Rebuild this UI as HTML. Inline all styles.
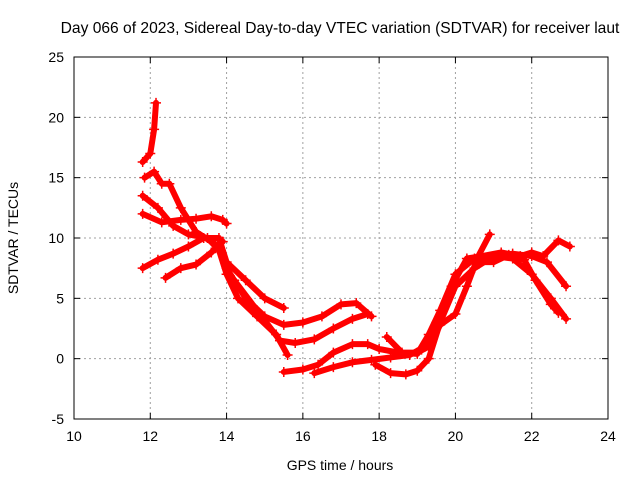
<!DOCTYPE html>
<html><head><meta charset="utf-8"><style>
body{margin:0;background:#fff}
svg{display:block;font-family:"Liberation Sans",sans-serif}
</style></head><body>
<svg id="chart" width="640" height="480">
<rect width="640" height="480" fill="#fff"/>
<text x="340" y="33" font-size="15.6" text-anchor="middle">Day 066 of 2023, Sidereal Day-to-day VTEC variation (SDTVAR) for receiver laut</text>
<g id="grid"></g><g id="axes"></g><g id="series"></g>
<text x="340" y="470" font-size="14" text-anchor="middle">GPS time / hours</text>
<text transform="translate(18,238) rotate(-90)" font-size="14" text-anchor="middle">SDTVAR / TECUs</text>
</svg>
<script>
const xTicks=[10,12,14,16,18,20,22,24];
const yTicks=[-5,0,5,10,15,20,25];
const track1=[[11.8,16.3],[12.0,17],[12.1,19],[12.15,21.2]];
const track2=[[11.85,15],[12.1,15.5],[12.3,14.5],[12.5,14.5],[12.8,12.5],[13.2,10.5],[13.7,9.5],[14,8],[14.5,6.5],[15,5],[15.5,4.2]];
const track3=[[11.8,13.5],[12.2,12.5],[12.6,11],[13,10.3],[13.5,10],[13.8,9],[14,7],[14.3,5],[14.8,3.5],[15.3,2],[15.6,0.3]];
const track4=[[11.8,12],[12.3,11.3],[12.8,11.5],[13.2,11.6],[13.6,11.8],[13.9,11.5],[14,11.2]];
const track5=[[11.8,7.5],[12.2,8.2],[12.6,8.7],[13,9.3],[13.4,10],[13.8,10],[14,8]];
const track6=[[12.4,6.7],[12.8,7.5],[13.2,7.8],[13.6,8.8],[13.9,9.7]];
const track7=[[14,7.5],[14.5,5],[15,3.5],[15.5,2.8],[16,3],[16.5,3.5],[17,4.5],[17.4,4.6],[17.8,3.5]];
const track8=[[14.2,6.5],[14.8,4],[15.4,1.5],[15.8,1.3],[16.3,1.6],[16.8,2.5],[17.3,3.3],[17.7,3.7]];
const track9=[[15.5,-1.1],[16,-0.9],[16.4,-0.5],[16.8,0.5],[17.3,1.2],[17.7,1.2],[18,0.8],[18.5,0.5],[19,0.4],[19.3,2],[19.6,4],[20,7],[20.5,8.3],[21,8.5],[21.5,8.7],[22,8.5],[22.4,8],[22.9,6]];
const track10=[[16.3,-1.2],[16.8,-0.7],[17.3,-0.3],[17.8,-0.1],[18.3,0.1],[18.8,0.3],[19.2,1],[19.5,3],[19.9,6],[20.3,8.3],[20.7,8.5],[21.2,8.8],[21.7,8.5],[22,8.8],[22.3,8.5],[22.7,9.8],[23,9.3]];
const track11=[[17.9,-0.5],[18.3,-1.2],[18.7,-1.3],[19,-1],[19.3,0],[19.6,3],[20,6],[20.5,7.5],[21,8.5],[21.5,8.3],[22,7],[22.5,5],[22.9,3.3]];
const track12=[[18.2,1.8],[18.6,0.5],[19,0.5],[19.3,1],[19.6,2.8],[20,3.7],[20.3,6],[20.6,8.5],[20.9,10.3]];
const track13=[[20.5,8],[21,8],[21.4,8.6],[21.8,8.2],[22.1,6.5],[22.5,4.5],[22.7,3.8]];
const tracks=[track1,track2,track3,track4,track5,track6,track7,track8,track9,track10,track11,track12,track13];
const X0=74,X1=608,Y0=419,Y1=57;
const sx=v=>X0+(v-10)/14*(X1-X0);
const sy=v=>Y0-(v+5)/30*(Y0-Y1);
const NS='http://www.w3.org/2000/svg';
function mk(t,a,p){const e=document.createElementNS(NS,t);for(const k in a)e.setAttribute(k,a[k]);p.appendChild(e);return e;}
const grid=document.getElementById('grid'),axes=document.getElementById('axes'),ser=document.getElementById('series');
xTicks.forEach(v=>{const x=sx(v);
 if(v>10&&v<24){const l=mk('line',{x1:x,x2:x,y1:Y1,y2:Y0,stroke:'#a0a0a0','stroke-dasharray':'2,3'},grid);
 }
 mk('line',{x1:x,x2:x,y1:Y0,y2:Y0-6,stroke:'#000'},axes);mk('line',{x1:x,x2:x,y1:Y1,y2:Y1+6,stroke:'#000'},axes);
 const t=mk('text',{x:x,y:Y0+22,'font-size':14,'text-anchor':'middle'},axes);t.textContent=v;
 });
yTicks.forEach(v=>{const y=sy(v);
 if(v>-5&&v<25){const l=mk('line',{x1:X0,x2:X1,y1:y,y2:y,stroke:'#a0a0a0','stroke-dasharray':'2,3'},grid);
 }
 mk('line',{x1:X0,x2:X0+6,y1:y,y2:y,stroke:'#000'},axes);mk('line',{x1:X1,x2:X1-6,y1:y,y2:y,stroke:'#000'},axes);
 const t=mk('text',{x:X0-10,y:y+5,'font-size':14,'text-anchor':'end'},axes);t.textContent=v;
 });
const fr=mk('rect',{x:X0,y:Y1,width:X1-X0,height:Y0-Y1,fill:'none',stroke:'#000'},axes);

tracks.forEach(tr=>{
 const p=mk('polyline',{points:tr.map(d=>sx(d[0])+','+sy(d[1])).join(' '),fill:'none',stroke:'#f00','stroke-width':6,'stroke-linejoin':'round','stroke-linecap':'round'},ser);
 
 tr.forEach(d=>{const x=sx(d[0]),y=sy(d[1]);
  const m=mk('path',{d:`M${x-5},${y}H${x+5}M${x},${y-5}V${y+5}`,stroke:'#f00','stroke-width':1.5},ser);
  });
});
</script>
</body></html>
